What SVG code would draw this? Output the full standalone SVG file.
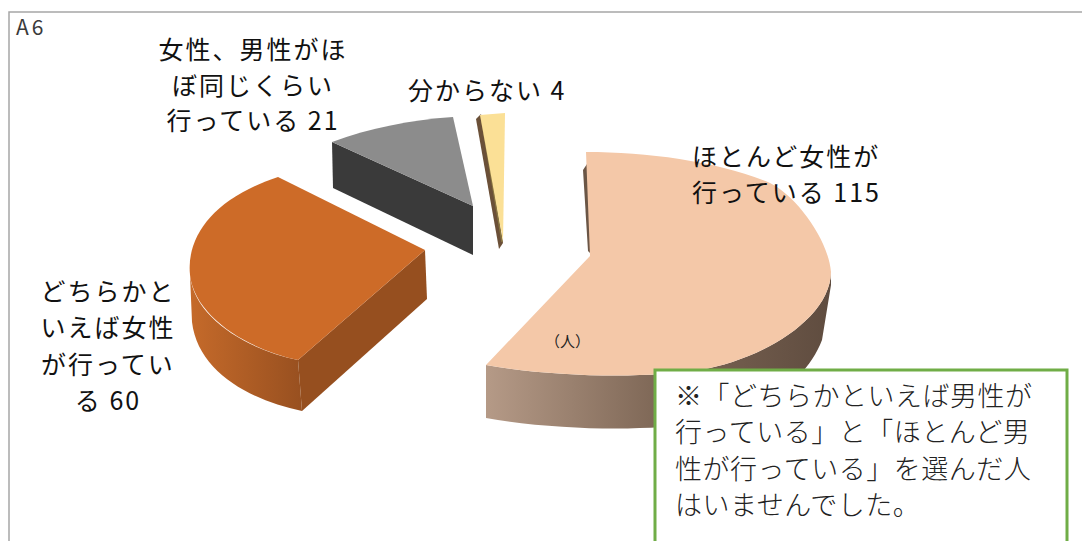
<svg xmlns="http://www.w3.org/2000/svg" width="1082" height="541" viewBox="0 0 1082 541">
<style>
.lbl{font-family:"Noto Sans CJK JP","Noto Sans",sans-serif;font-size:25px;letter-spacing:2px;fill:#111}
.note{font-family:"Noto Sans CJK JP",sans-serif;font-size:27px;letter-spacing:0.5px;fill:#222;font-weight:300}
.mid{text-anchor:middle}
</style>
<defs>
<linearGradient id="peachWall" gradientUnits="userSpaceOnUse" x1="486" y1="0" x2="831" y2="0">
<stop offset="0" stop-color="#b59a87"/>
<stop offset="0.5" stop-color="#7e6756"/>
<stop offset="1" stop-color="#5f4c3f"/>
</linearGradient>
<linearGradient id="orangeWall" gradientUnits="userSpaceOnUse" x1="190" y1="0" x2="302" y2="0">
<stop offset="0" stop-color="#c56a2a"/>
<stop offset="1" stop-color="#985020"/>
</linearGradient>
</defs>
<rect x="9" y="12" width="1090" height="540" fill="#fff" stroke="#a6a6a6" stroke-width="1.5"/>
<text x="16" y="35" font-family="'Noto Sans CJK JP',sans-serif" font-size="21" letter-spacing="3" fill="#3a3a3a">A6</text>

<g id="slice-mostly-women">
<polygon points="583,170 587,164 592,255 588,251" fill="#6b5646"/>
<path d="M831,272 C830,320 760,360 700,370 C650,378 560,378 486,365 L486,418 C560,431 650,431 700,423 C755,414 805,385 822,340 L831,285 Z" fill="url(#peachWall)"/>
<path d="M586,152 C650,152 720,162 770,183 C795,195 828,238 831,272 C830,320 760,360 700,370 C650,378 560,378 486,365 L590,256 Z" fill="#f4c8a8"/>
<text x="545" y="347" font-family="'Noto Sans CJK JP',sans-serif" font-size="15" fill="#222">（人）</text>
</g>

<g id="slice-rather-women">
<path d="M190,275 C194,318 248,350 298,360 L302,411 C250,400 198,372 192,322 Z" fill="url(#orangeWall)"/>
<polygon points="425,250 298,360 302,411 427,299" fill="#964f1f"/>
<path d="M278,177 C215,198 186,235 190,275 C195,318 250,350 298,360 L425,250 Z" fill="#cd6b28"/>
</g>

<g id="slice-equal">
<polygon points="332,142 473,206 473,255 333,188" fill="#3a3a3a"/>
<path d="M332,142 C370,128 410,120 453,117 L473,206 Z" fill="#8c8c8c"/>
</g>

<g id="slice-unknown">
<polygon points="476,119 481,114 503,243 499,249" fill="#6b5038"/>
<line x1="481" y1="116" x2="502" y2="242" stroke="#8a7640" stroke-width="1.5"/>
<polygon points="480,115 505,113 503,241" fill="#fbe096"/>
</g>

<g id="label-equal">
<text class="lbl mid" x="253" y="59">女性、男性がほ</text>
<text class="lbl mid" x="253" y="95">ぼ同じくらい</text>
<text class="lbl mid" x="253" y="130">行っている 21</text>
</g>
<g id="label-unknown">
<text class="lbl" x="408" y="100">分からない 4</text>
</g>
<g id="label-mostly-women">
<text class="lbl" x="692" y="166">ほとんど女性が</text>
<text class="lbl" x="692" y="202">行っている 115</text>
</g>
<g id="label-rather-women">
<text class="lbl mid" x="108" y="301">どちらかと</text>
<text class="lbl mid" x="108" y="337">いえば女性</text>
<text class="lbl mid" x="108" y="374">が行ってい</text>
<text class="lbl mid" x="108" y="410">る 60</text>
</g>

<g id="note">
<rect x="655" y="370" width="412" height="185" fill="#fff" stroke="#70ad47" stroke-width="3"/>
<text class="note" x="675" y="406">※「どちらかといえば男性が</text>
<text class="note" x="675" y="442">行っている」と「ほとんど男</text>
<text class="note" x="675" y="479">性が行っている」を選んだ人</text>
<text class="note" x="675" y="515">はいませんでした。</text>
</g>
</svg>
